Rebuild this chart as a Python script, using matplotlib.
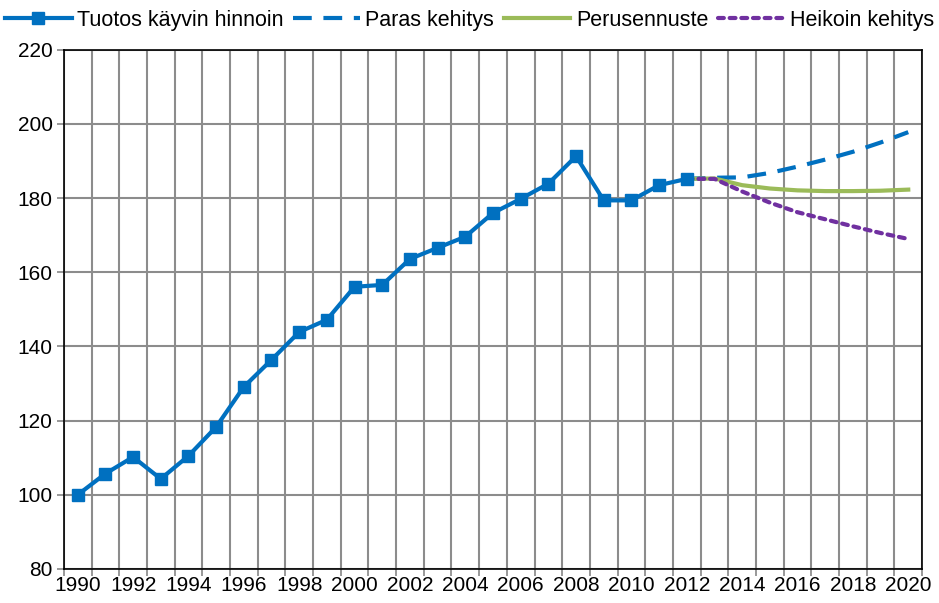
import matplotlib.pyplot as plt
import numpy as np

plt.rcParams['font.family'] = ['Liberation Sans', 'DejaVu Sans']

years = list(range(1990, 2013))
tuotos = [100.0, 105.7, 110.2, 104.3, 110.5, 118.3, 129.1, 136.4, 143.9, 147.2,
          156.1, 156.6, 163.6, 166.6, 169.6, 176.0, 179.8, 183.9, 191.3, 179.4,
          179.4, 183.5, 185.2]

f_years = list(range(2012, 2021))
paras = [185.2, 185.5, 185.6, 186.8, 188.5, 190.4, 192.5, 195.0, 197.8]
perus = [185.2, 185.3, 183.5, 182.6, 182.1, 181.9, 181.9, 182.0, 182.3]
heikoin = [185.2, 185.2, 181.8, 178.8, 176.2, 174.3, 172.4, 170.6, 169.0]

blue = '#0070C0'
green = '#9BBB59'
purple = '#7030A0'

fig = plt.figure(figsize=(9.39, 6.03), dpi=100)
ax = fig.add_axes([0.068, 0.0564, 0.914, 0.861])

l1, = ax.plot(years, tuotos, color=blue, lw=3, marker='s', ms=8,
              label='Tuotos käyvin hinnoin', zorder=5)
l2, = ax.plot(f_years, paras, color=blue, lw=3, linestyle=(0, (4.5, 2.8)),
              label='Paras kehitys', zorder=4)
l3, = ax.plot(f_years, perus, color=green, lw=3, label='Perusennuste', zorder=4)
l4, = ax.plot(f_years, heikoin, color=purple, lw=3, linestyle=(0, (1.4, 1.4)),
              dash_capstyle='round', label='Heikoin kehitys', zorder=4)

ax.set_xlim(1989.5, 2020.5)
ax.set_ylim(80, 220)
ax.set_yticks(np.arange(80, 221, 20))
ax.set_xticks(np.arange(1989.5, 2021, 1))
ax.set_xticklabels([])
ax.set_xticks(range(1990, 2021, 2), minor=True)
ax.set_xticklabels([str(y) for y in range(1990, 2021, 2)], minor=True)
ax.tick_params(axis='x', which='minor', length=0, labelsize=15, pad=5)
ax.tick_params(axis='x', which='major', length=5, width=1.2, color='#888888')
ax.tick_params(axis='y', length=5, width=1.2, color='#888888', labelsize=15, pad=3)
ax.grid(True, which='major', color='#8c8c8c', lw=1.5)
ax.set_axisbelow(True)
for s in ax.spines.values():
    s.set_color('black')
    s.set_linewidth(1.2)

fig.legend(handles=[l1, l2, l3, l4], loc='center', bbox_to_anchor=(0.5, 0.966),
           ncol=4, frameon=False, fontsize=15.5, handlelength=3.1,
           columnspacing=0.45, handletextpad=0.25)

fig.savefig('out.png', dpi=100)
